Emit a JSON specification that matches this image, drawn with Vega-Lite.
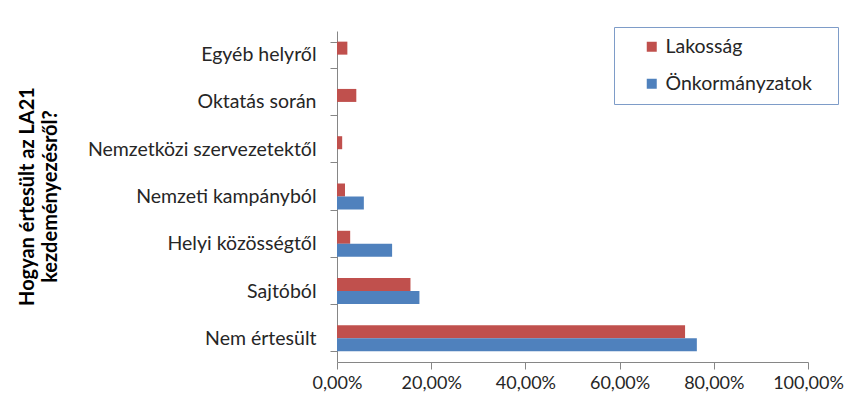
{
  "$schema": "https://vega.github.io/schema/vega-lite/v6.json",
  "width": 471,
  "height": 331,
  "autosize": {"type": "none"},
  "padding": {"left": 337, "top": 31, "right": 50, "bottom": 58},
  "background": "white",
  "config": {
    "font": "Lato",
    "view": {"stroke": null},
    "axis": {"grid": false, "domainColor": "#868686", "tickColor": "#868686", "labelColor": "#262626", "titleColor": "#000000"}
  },
  "data": {
    "values": [
      {"kategoria": "Egyéb helyről", "csoport": "Lakosság", "ertek": 0.022},
      {"kategoria": "Egyéb helyről", "csoport": "Önkormányzatok", "ertek": 0.0},
      {"kategoria": "Oktatás során", "csoport": "Lakosság", "ertek": 0.041},
      {"kategoria": "Oktatás során", "csoport": "Önkormányzatok", "ertek": 0.0},
      {"kategoria": "Nemzetközi szervezetektől", "csoport": "Lakosság", "ertek": 0.011},
      {"kategoria": "Nemzetközi szervezetektől", "csoport": "Önkormányzatok", "ertek": 0.0},
      {"kategoria": "Nemzeti kampányból", "csoport": "Lakosság", "ertek": 0.017},
      {"kategoria": "Nemzeti kampányból", "csoport": "Önkormányzatok", "ertek": 0.057},
      {"kategoria": "Helyi közösségtől", "csoport": "Lakosság", "ertek": 0.028},
      {"kategoria": "Helyi közösségtől", "csoport": "Önkormányzatok", "ertek": 0.117},
      {"kategoria": "Sajtóból", "csoport": "Lakosság", "ertek": 0.156},
      {"kategoria": "Sajtóból", "csoport": "Önkormányzatok", "ertek": 0.175},
      {"kategoria": "Nem értesült", "csoport": "Lakosság", "ertek": 0.739},
      {"kategoria": "Nem értesült", "csoport": "Önkormányzatok", "ertek": 0.764}
    ]
  },
  "mark": {"type": "bar"},
  "encoding": {
    "y": {
      "field": "kategoria",
      "type": "nominal",
      "sort": ["Egyéb helyről", "Oktatás során", "Nemzetközi szervezetektől", "Nemzeti kampányból", "Helyi közösségtől", "Sajtóból", "Nem értesült"],
      "scale": {"paddingInner": 0.45, "paddingOuter": 0.225},
      "axis": {
        "title": ["Hogyan értesült az LA21", "kezdeményezésről?"],
        "titleFontSize": 20,
        "titleFontWeight": "bold",
        "titleLineHeight": 23,
        "titleX": -310,
        "titleY": 165,
        "titleAngle": -90,
        "titleAlign": "center",
        "titleBaseline": "middle",
        "tickBand": "extent",
        "tickSize": 7,
        "labelPadding": 14,
        "labelFontSize": 19.5,
        "labelLimit": 400
      }
    },
    "yOffset": {
      "field": "csoport",
      "type": "nominal",
      "sort": ["Lakosság", "Önkormányzatok"],
      "scale": {"paddingInner": 0, "paddingOuter": 0}
    },
    "x": {
      "field": "ertek",
      "type": "quantitative",
      "scale": {"domain": [0, 1], "nice": false},
      "axis": {
        "title": null,
        "values": [0, 0.2, 0.4, 0.6, 0.8, 1],
        "labelExpr": "replace(format(datum.value, '.2%'), '.', ',')",
        "labelOverlap": false,
        "labelFlush": false,
        "tickSize": 7,
        "labelPadding": 5,
        "labelFontSize": 18
      }
    },
    "color": {
      "field": "csoport",
      "type": "nominal",
      "scale": {"domain": ["Lakosság", "Önkormányzatok"], "range": ["#C0504D", "#4F81BD"]},
      "legend": {
        "title": null,
        "orient": "none",
        "legendX": 277,
        "legendY": -4,
        "strokeColor": "#7E9CC8",
        "fillColor": "white",
        "padding": 10,
        "symbolType": "square",
        "symbolSize": 100,
        "symbolOffset": 18,
        "symbolStrokeWidth": 0,
        "labelFontSize": 19.5,
        "labelColor": "#262626",
        "labelLimit": 400,
        "rowPadding": 16,
        "labelExpr": "datum.label + '\u2800'"
      }
    }
  }
}
